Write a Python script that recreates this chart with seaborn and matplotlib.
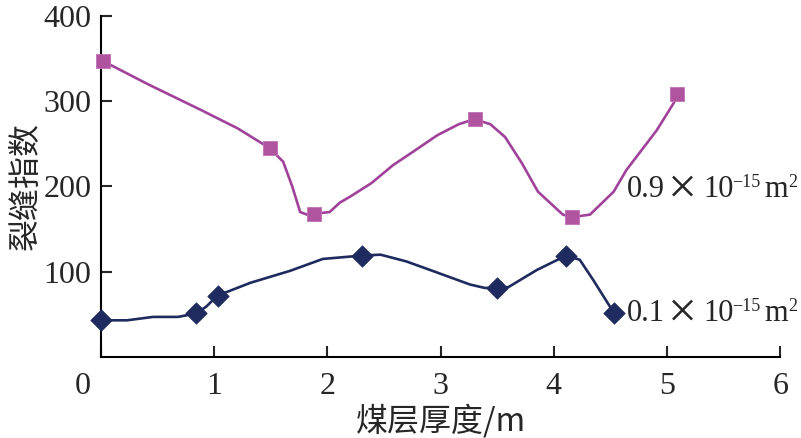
import numpy as np
import pandas as pd
import matplotlib
matplotlib.use("Agg")
import matplotlib.pyplot as plt
import matplotlib.transforms as mtrans
import seaborn as sns

# line traces (0.9e-15 m2 series)
x_09_line = [0.02, 0.43, 0.88, 1.21, 1.49, 1.61, 1.69, 1.76, 1.82, 1.88, 2.02, 2.11,
             2.20, 2.39, 2.58, 2.76, 2.97, 3.16, 3.30, 3.44, 3.57, 3.72, 3.86, 4.08,
             4.16, 4.32, 4.53, 4.64, 4.91, 5.06, 5.09]
y_09_line = [347, 319, 290, 268, 245, 229, 200, 170, 167, 168, 170, 181,
             188, 204, 225, 241, 260, 273, 279, 273, 258, 227, 194, 167,
             164, 167, 194, 219, 266, 298, 309]
# marker points (0.9e-15 m2)
x_09 = [0.02, 1.49, 1.88, 3.30, 4.16, 5.09]
y_09 = [347, 245, 168, 279, 164, 309]

# line traces (0.1e-15 m2 series)
x_01_line = [0.0, 0.23, 0.46, 0.68, 0.84, 0.93, 1.03, 1.32, 1.67, 1.96, 2.31, 2.47,
             2.70, 2.95, 3.26, 3.39, 3.50, 3.60, 3.85, 4.11, 4.23, 4.35, 4.53]
y_01_line = [43, 43, 47, 47, 51, 59, 72, 87, 101, 115, 119, 120,
             112, 100, 85, 81, 81, 82, 102, 119, 114, 90, 52]
# marker points (0.1e-15 m2)
x_01 = [0.0, 0.84, 1.03, 2.31, 3.50, 4.11, 4.53]
y_01 = [43, 51, 72, 119, 81, 119, 52]

x_ticks = [0, 1, 2, 3, 4, 5, 6]
y_ticks = [100, 200, 300, 400]
series_labels = ["0.9", "0.1"]

sns.set_style("ticks")
plt.rcParams["font.family"] = ["Liberation Serif", "Noto Sans CJK SC"]

purple = "#A0429A"
navy = "#1F2B5E"

W, H = 801, 438
fig = plt.figure(figsize=(W / 100, H / 100), dpi=100)
ax = fig.add_axes([0.126, 0.185, 0.848, 0.7785])

sns.lineplot(x=x_09_line, y=y_09_line, sort=False, color=purple, linewidth=1.9, ax=ax)
sns.lineplot(x=x_01_line, y=y_01_line, sort=False, color=navy, linewidth=1.9, ax=ax)
sns.scatterplot(x=x_09, y=y_09, marker="s", s=110, color="#B0549F",
                edgecolor="#C070B5", linewidth=0.6, zorder=5, clip_on=False, ax=ax)
sns.scatterplot(x=x_01, y=y_01, marker="D", s=120, color=navy,
                edgecolor=navy, linewidth=0.5, zorder=5, clip_on=False, ax=ax)

ax.set_xlim(0, 6)
ax.set_ylim(0, 400)
ax.set_xticks(x_ticks)
ax.set_yticks(y_ticks)
ax.tick_params(direction="in", length=8, width=1.5, labelsize=23, pad=7)
ax.tick_params(axis="x", pad=11)
for s in ["top", "right"]:
    ax.spines[s].set_visible(False)
for s in ["left", "bottom"]:
    ax.spines[s].set_linewidth(1.5)
    ax.spines[s].set_color("black")

# origin label sits left of the axis corner
lbl0 = ax.get_xticklabels()[0]
lbl0.set_transform(lbl0.get_transform() + mtrans.ScaledTranslation(-18 / 100, 0, fig.dpi_scale_trans))

ax.set_xlabel("煤层厚度/m", fontsize=23, family=["Noto Sans CJK SC", "Liberation Serif"],
              labelpad=2)
ax.set_ylabel("裂缝指数", fontsize=23, family=["Noto Sans CJK SC"])
ax.yaxis.set_label_coords(-0.085, 0.5)


# series labels, built from pieces (pixel positions of the text baseline)
def series_label(val, x0, base):
    def put(px, py, s, size):
        fig.text(px / W, 1 - py / H, s, fontsize=size, va="baseline", ha="left")
    put(x0, base, val, 22)
    put(x0 + 41, base + 6, "×", 37)
    put(x0 + 76, base, "10", 22)
    put(x0 + 105, base - 10, "−15", 13)
    put(x0 + 137, base, "m", 22)
    put(x0 + 161, base - 10, "2", 13)


series_label(series_labels[0], 627, 197)
series_label(series_labels[1], 627, 321)

fig.savefig("out.png", dpi=100)
